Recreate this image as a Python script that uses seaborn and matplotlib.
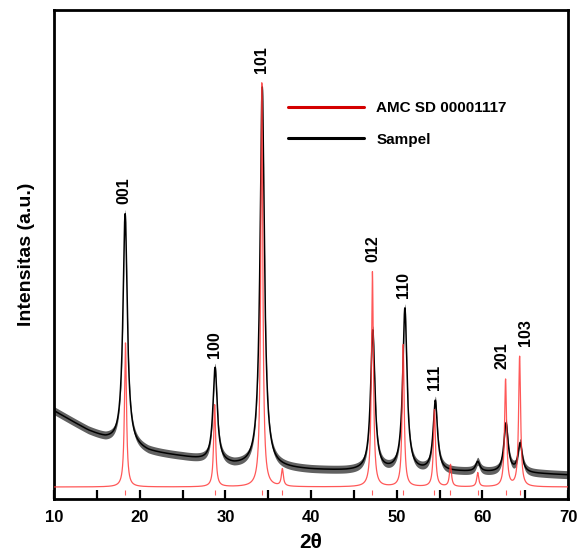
import numpy as np
import pandas as pd
import matplotlib
matplotlib.use("Agg")
import matplotlib.pyplot as plt
from matplotlib.lines import Line2D
from matplotlib.ticker import MultipleLocator, NullLocator
import seaborn as sns

# ---------------- data ----------------
# background of the measured sample (2θ, intensity)
bg_two_theta = [10, 12, 14, 16, 21, 25, 31, 40, 44, 57.5, 67, 70]
bg_intensity = [88, 78, 68, 60, 47, 42, 33, 29, 28, 27, 25, 24]

# measured sample peaks (position, height above background)
sample_pos = [18.3, 28.8, 34.3, 47.2, 50.95, 54.5, 59.45, 62.75, 64.4]
sample_amp = [231, 94, 380, 140, 162, 70, 10, 49, 29]

# reference pattern AMCSD 00001117 (position, height above baseline)
ref_baseline = 12
ref_pos = [18.34, 28.75, 34.25, 36.65, 47.16, 50.75, 54.4, 56.27, 59.45, 62.7, 64.34]
ref_amp = [144, 82, 404, 17, 215, 142, 77, 22, 14, 107, 130]

# Miller indices and the reflection they belong to
hkl_labels = ["001", "100", "101", "012", "110", "111", "201", "103"]
hkl_pos = [18.34, 28.75, 34.25, 47.16, 50.75, 54.4, 62.7, 64.34]

x_ticks = [10, 20, 30, 40, 50, 60, 70]
legend_labels = ["AMC SD 00001117", "Sampel"]

# ---------------- profiles ----------------
tt = np.arange(10, 70.0001, 0.01)


def lorentz(x, pos, amp, gamma):
    out = np.zeros_like(x)
    for p, a in zip(pos, amp):
        out += a * gamma**2 / ((x - p) ** 2 + gamma**2)
    return out


sample = np.interp(tt, bg_two_theta, bg_intensity) + lorentz(tt, sample_pos, sample_amp, 0.30)
reference = ref_baseline + lorentz(tt, ref_pos, ref_amp, 0.14)

df_sample = pd.DataFrame({"two_theta": tt, "intensity": sample})
df_ref = pd.DataFrame({"two_theta": tt, "intensity": reference})

# ---------------- figure ----------------
sns.set_style("ticks")
plt.rcParams["font.family"] = ["Liberation Sans", "DejaVu Sans"]
plt.rcParams["font.weight"] = "bold"
plt.rcParams["text.color"] = "black"
plt.rcParams["axes.labelcolor"] = "black"
plt.rcParams["xtick.color"] = "black"
plt.rcParams["ytick.color"] = "black"

fig = plt.figure(figsize=(5.77, 5.52), dpi=100)
ax = fig.add_axes([0.0936, 0.096, 0.891, 0.886])

# noisy-looking band around the measured pattern
ax.fill_between(tt, sample - 4, sample + 4, color="black", alpha=0.62, lw=0, zorder=2)
sns.lineplot(data=df_sample, x="two_theta", y="intensity", ax=ax, color="black",
             lw=1.1, legend=False, zorder=3)
sns.lineplot(data=df_ref, x="two_theta", y="intensity", ax=ax, color="#ff3b3b",
             lw=0.9, alpha=0.85, legend=False, zorder=4)

# small reference markers below the baseline
ax.vlines(ref_pos, 4, 9, color="#ff6060", lw=0.8, zorder=4)

# hkl labels above peaks
label_dx = {"201": -3.5, "103": 5.5, "001": -1.5}
for lab, p in zip(hkl_labels, hkl_pos):
    m = np.abs(tt - p) < 0.3
    top = max(sample[m].max(), reference[m].max())
    ax.annotate(lab, xy=(p, top), xytext=(label_dx.get(lab, 0) * 0.72, 7),
                textcoords="offset points", rotation=90, ha="center", va="bottom",
                fontsize=11.5, fontweight="bold", color="black")

ax.set_xlim(10, 70)
ax.set_ylim(0, 489)
ax.set_xticks(x_ticks)
ax.set_xticklabels([str(v) for v in x_ticks])
ax.xaxis.set_minor_locator(MultipleLocator(5))
ax.yaxis.set_major_locator(NullLocator())
ax.tick_params(axis="x", which="both", direction="in", length=6.5, width=1.6,
               labelsize=12, pad=8, colors="black")
for lab in ax.get_xticklabels():
    lab.set_fontweight("bold")

for s in ax.spines.values():
    s.set_visible(True)
    s.set_linewidth(2.0)
    s.set_color("black")

ax.set_xlabel("2θ", fontsize=15, fontweight="bold", labelpad=6, color="black")
ax.set_ylabel("Intensitas (a.u.)", fontsize=14, fontweight="bold", labelpad=14, color="black")

handles = [Line2D([], [], color="#d40000", lw=2.2), Line2D([], [], color="black", lw=2.2)]
leg = ax.legend(handles, legend_labels, loc="upper left", bbox_to_anchor=(0.428, 0.842),
                frameon=False, handlelength=5.0, handletextpad=0.8, labelspacing=1.15,
                prop={"weight": "bold", "size": 11})
for t in leg.get_texts():
    t.set_color("black")

fig.savefig("out.png", dpi=100)
